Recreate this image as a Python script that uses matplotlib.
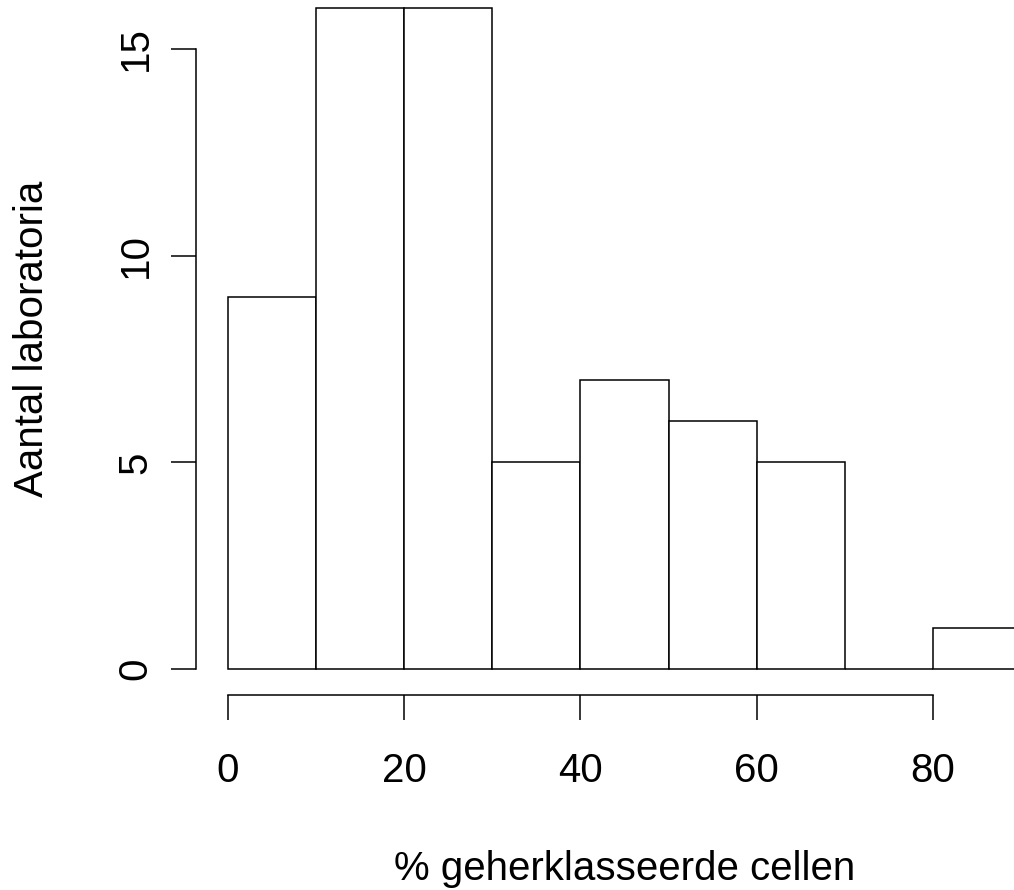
"""
Histogram of reclassified cells per laboratory, drawn in the look of base R's hist().
"""
import matplotlib
matplotlib.use("Agg")
import matplotlib.pyplot as plt

# bin edges (%) and number of laboratories per bin
bin_edges = [0, 10, 20, 30, 40, 50, 60, 70, 80, 90]
counts = [9, 16, 16, 5, 7, 6, 5, 0, 1]
x_ticks = [0, 20, 40, 60, 80]
y_ticks = [0, 5, 10, 15]

plt.rcParams["font.family"] = ["Liberation Sans", "DejaVu Sans"]

W, H, DPI = 1014, 890, 100
FS = 29
TICK_LEN = 25 * 72 / DPI   # 25 px in points

fig = plt.figure(figsize=(W / DPI, H / DPI), dpi=DPI)

# data -> pixel mapping (x=0 at 228 px, 8.81 px/unit;
# y=0 at 669 px, 41.33 px/unit), so the axes fill the whole figure
px_x0, sx = 228.0, 8.81
px_y0, sy = 669.0, 41.33
ax = fig.add_axes([0, 0, 1, 1])
ax.set_xlim(-px_x0 / sx, (W - px_x0) / sx)
ax.set_ylim(-(H - px_y0) / sy, px_y0 / sy)

widths = [b - a for a, b in zip(bin_edges[:-1], bin_edges[1:])]
ax.bar(bin_edges[:-1], counts, width=widths, align="edge",
       facecolor="white", edgecolor="black", linewidth=1.1, clip_on=False)

# R style axes: pulled out by 4 % of the data range
x_rng = bin_edges[-1] - bin_edges[0]
y_rng = max(counts)
for s in ["top", "right"]:
    ax.spines[s].set_visible(False)
ax.spines["left"].set_position(("data", bin_edges[0] - 0.04 * x_rng))
ax.spines["bottom"].set_position(("data", -0.04 * y_rng))
ax.spines["left"].set_bounds(y_ticks[0], y_ticks[-1])
ax.spines["bottom"].set_bounds(x_ticks[0], x_ticks[-1])
for s in ["left", "bottom"]:
    ax.spines[s].set_linewidth(1.1)

ax.set_xticks(x_ticks)
ax.set_yticks(y_ticks)
ax.tick_params(axis="x", length=TICK_LEN, width=1.1, labelsize=FS, pad=23)
ax.tick_params(axis="y", length=TICK_LEN, width=1.1, labelsize=FS, pad=12,
               labelrotation=90)
for lab in ax.get_yticklabels():
    lab.set_va("center")

# axis titles, centred on the R plot region
plot_cx = (px_x0 + sx * (bin_edges[0] - 0.04 * x_rng)
           + px_x0 + sx * (bin_edges[-1] + 0.04 * x_rng)) / 2
plot_cy = (px_y0 + sy * 0.04 * y_rng + px_y0 - sy * 1.04 * y_rng) / 2
fig.text(plot_cx / W, 1 - 880 / H, "% geherklasseerde cellen",
         ha="center", va="baseline", fontsize=FS)
fig.text(43 / W, 1 - plot_cy / H, "Aantal laboratoria",
         ha="center", va="baseline", rotation=90, fontsize=FS,
         rotation_mode="anchor")

fig.savefig("out.png", dpi=DPI)
